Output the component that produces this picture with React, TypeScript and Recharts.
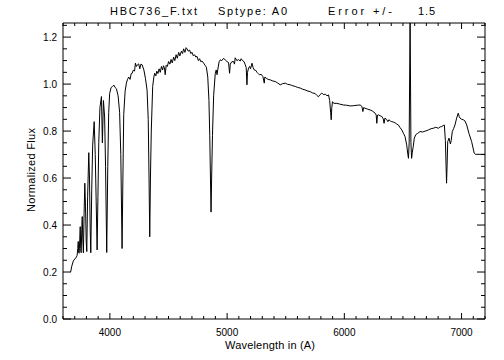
import { LineChart, Line, XAxis, YAxis } from 'recharts'

// spectrum (Angstrom / normalized flux)
const wavelength = [
  3665, 3675, 3688, 3700, 3712, 3720, 3726, 3730, 3734, 3738, 3743, 3747, 3751, 3755, 3760, 3764, 3769, 3774, 3780, 3786,
  3792, 3798, 3803, 3810, 3820, 3826, 3832, 3837, 3845, 3853, 3866, 3875, 3883, 3891, 3898, 3905, 3915, 3928, 3936, 3945,
  3955, 3963, 3973, 3982, 3990, 3998, 4010, 4022, 4035, 4045, 4056, 4070, 4083, 4093, 4104, 4111, 4118, 4130, 4141, 4150,
  4161, 4172, 4182, 4190, 4200, 4210, 4218, 4226, 4235, 4246, 4255, 4265, 4275, 4290, 4303, 4317, 4327, 4334, 4340, 4346,
  4353, 4365, 4375, 4382, 4392, 4400, 4410, 4420, 4430, 4440, 4450, 4457, 4465, 4472, 4480, 4490, 4501, 4512, 4522, 4532,
  4544, 4554, 4565, 4575, 4587, 4597, 4610, 4620, 4629, 4640, 4650, 4658, 4668, 4680, 4690, 4701, 4712, 4722, 4733, 4743,
  4755, 4765, 4776, 4786, 4800, 4812, 4823, 4835, 4845, 4852, 4858, 4863, 4868, 4875, 4885, 4899, 4907, 4914, 4920, 4932,
  4942, 4955, 4970, 4985, 4999, 5012, 5021, 5027, 5040, 5055, 5063, 5069, 5083, 5098, 5112, 5120, 5132, 5145, 5155, 5163,
  5169, 5174, 5183, 5192, 5200, 5212, 5222, 5232, 5245, 5255, 5265, 5277, 5290, 5305, 5317, 5322, 5334, 5350, 5368, 5390,
  5411, 5430, 5453, 5475, 5496, 5515, 5539, 5560, 5581, 5600, 5624, 5645, 5666, 5690, 5709, 5730, 5751, 5765, 5779, 5793,
  5808, 5822, 5837, 5852, 5865, 5875, 5883, 5888, 5893, 5899, 5910, 5936, 5960, 5992, 6020, 6050, 6080, 6110, 6135, 6150,
  6158, 6165, 6177, 6200, 6220, 6240, 6263, 6272, 6277, 6283, 6291, 6305, 6320, 6332, 6339, 6346, 6360, 6371, 6380, 6395,
  6405, 6420, 6433, 6447, 6461, 6475, 6490, 6505, 6518, 6532, 6542, 6547, 6553, 6561, 6568, 6574, 6580, 6588, 6597, 6610,
  6625, 6646, 6668, 6689, 6705, 6717, 6740, 6759, 6780, 6802, 6818, 6831, 6845, 6853, 6862, 6868, 6872, 6877, 6882, 6893,
  6905, 6912, 6921, 6932, 6944, 6958, 6972, 6980, 6987, 7001, 7015, 7029, 7044, 7063, 7086, 7108, 7120, 7171, 7199,
]
const flux = [
  0.2, 0.225, 0.247, 0.255, 0.262, 0.27, 0.3, 0.33, 0.282, 0.28, 0.34, 0.393, 0.3, 0.282, 0.38, 0.436, 0.34, 0.282, 0.45, 0.578,
  0.48, 0.33, 0.287, 0.52, 0.708, 0.6, 0.38, 0.282, 0.55, 0.74, 0.84, 0.7, 0.5, 0.294, 0.52, 0.75, 0.9, 0.947, 0.75, 0.93,
  0.86, 0.65, 0.283, 0.65, 0.88, 0.96, 0.985, 0.99, 0.995, 0.985, 0.98, 0.95, 0.88, 0.7, 0.3, 0.6, 0.87, 0.97, 1.004, 1.02,
  1.03, 1.02, 1.045, 1.046, 1.06, 1.055, 1.089, 1.075, 1.082, 1.086, 1.065, 1.085, 1.082, 1.06, 1.025, 0.975, 0.85, 0.6, 0.35, 0.6,
  0.8, 0.99, 1.03, 1.046, 1.035, 1.055, 1.045, 1.065, 1.05, 1.075, 1.06, 1.078, 1.07, 1.04, 1.08, 1.075, 1.096, 1.085, 1.105, 1.09,
  1.115, 1.1, 1.125, 1.11, 1.135, 1.12, 1.14, 1.13, 1.15, 1.135, 1.155, 1.15, 1.14, 1.145, 1.13, 1.135, 1.12, 1.125, 1.115, 1.118,
  1.1, 1.108, 1.095, 1.098, 1.089, 1.08, 1.072, 1.03, 0.93, 0.78, 0.6, 0.455, 0.6, 0.78, 0.95, 1.046, 1.06, 1.04, 1.06, 1.095,
  1.103, 1.1, 1.11, 1.102, 1.096, 1.092, 1.046, 1.085, 1.095, 1.096, 1.085, 1.112, 1.1, 1.104, 1.098, 1.108, 1.1, 1.095, 1.082, 1.07,
  0.997, 1.05, 1.068, 1.075, 1.065, 1.089, 1.07, 1.06, 1.058, 1.05, 1.045, 1.039, 1.042, 1.032, 1.004, 1.03, 1.025, 1.02, 1.018, 1.013,
  1.011, 1.005, 0.997, 1.002, 1.004, 0.999, 0.997, 0.993, 0.99, 0.986, 0.983, 0.978, 0.975, 0.97, 0.968, 0.962, 0.96, 0.952, 0.946, 0.955,
  0.962, 0.955, 0.957, 0.95, 0.954, 0.93, 0.88, 0.848, 0.9, 0.925, 0.918, 0.918, 0.915, 0.911, 0.91, 0.907, 0.908, 0.91, 0.911, 0.905,
  0.883, 0.9, 0.897, 0.893, 0.89, 0.885, 0.876, 0.868, 0.833, 0.868, 0.869, 0.865, 0.862, 0.852, 0.833, 0.855, 0.85, 0.84, 0.848, 0.842,
  0.84, 0.838, 0.835, 0.83, 0.826, 0.815, 0.805, 0.79, 0.776, 0.741, 0.7, 0.684, 0.75, 1.3, 0.75, 0.684, 0.71, 0.735, 0.77, 0.785,
  0.79, 0.798, 0.796, 0.8, 0.802, 0.805, 0.81, 0.812, 0.816, 0.812, 0.818, 0.819, 0.824, 0.826, 0.76, 0.65, 0.578, 0.66, 0.755, 0.77,
  0.745, 0.76, 0.798, 0.81, 0.826, 0.855, 0.876, 0.862, 0.855, 0.85, 0.848, 0.843, 0.826, 0.79, 0.755, 0.706, 0.701, 0.701, 0.701,
]

const xMajor = [4000, 5000, 6000, 7000]
const yMajorLabels = ['0.0', '0.2', '0.4', '0.6', '0.8', '1.0', '1.2']

const xTicks: number[] = []
for (let w = 3600; w <= 7200; w += 100) xTicks.push(w)
const yTicks: number[] = []
for (let i = 0; i <= 25; i++) yTicks.push(i * 0.05)

const spectrum = wavelength.map((w, i) => ({ w, f: flux[i] }))

const font = '"Liberation Sans", Arial, Helvetica, sans-serif'
const isMajorX = (v: number) => xMajor.includes(v)
const yLabelOf = (v: number) => {
  const k = Math.round(v * 5)
  return Math.abs(v * 5 - k) < 1e-6 ? yMajorLabels[k] : null
}

const BottomTick = (props: any) => {
  const { x, y, payload } = props
  const major = isMajorX(payload.value)
  return (
    <g>
      <line x1={x} y1={y} x2={x} y2={y - (major ? 6 : 3)} stroke='#000' />
      {major && <text x={x} y={y + 17} textAnchor='middle' fontSize={10} fontFamily={font} fill='#000'>{payload.value}</text>}
    </g>
  )
}
const TopTick = (props: any) => {
  const { x, y, payload } = props
  const major = isMajorX(payload.value)
  return <line x1={x} y1={y} x2={x} y2={y + (major ? 6 : 3)} stroke='#000' />
}
const LeftTick = (props: any) => {
  const { x, y, payload } = props
  const label = yLabelOf(payload.value)
  return (
    <g>
      <line x1={x} y1={y} x2={x + (label ? 8 : 4)} y2={y} stroke='#000' />
      {label && <text x={x - 6} y={y + 4} textAnchor='end' fontSize={10} fontFamily={font} fill='#000'>{label}</text>}
    </g>
  )
}
const RightTick = (props: any) => {
  const { x, y, payload } = props
  const major = yLabelOf(payload.value) !== null
  return <line x1={x} y1={y} x2={x - (major ? 8 : 4)} y2={y} stroke='#000' />
}

const App = () => {
  return (
    <div style={{ position: 'absolute', left: 0, top: 0, width: 504, height: 360, background: '#fff' }}>
      <LineChart width={504} height={360} data={spectrum} margin={{ top: 22, right: 18, bottom: 40, left: 62 }}>
        <XAxis xAxisId='bottom' dataKey='w' type='number' domain={[3600, 7200]} allowDataOverflow ticks={xTicks} interval={0}
          height={1} tickSize={0} tickMargin={0} tickLine={false} axisLine={{ stroke: '#000' }} tick={<BottomTick />} />
        <XAxis xAxisId='top' orientation='top' dataKey='w' type='number' domain={[3600, 7200]} allowDataOverflow ticks={xTicks} interval={0}
          height={1} tickSize={0} tickMargin={0} tickLine={false} axisLine={{ stroke: '#000' }} tick={<TopTick />} />
        <YAxis yAxisId='left' type='number' domain={[0, 1.26]} allowDataOverflow ticks={yTicks} interval={0}
          width={1} tickSize={0} tickMargin={0} tickLine={false} axisLine={{ stroke: '#000' }} tick={<LeftTick />} />
        <YAxis yAxisId='right' orientation='right' type='number' domain={[0, 1.26]} allowDataOverflow ticks={yTicks} interval={0}
          width={1} tickSize={0} tickMargin={0} tickLine={false} axisLine={{ stroke: '#000' }} tick={<RightTick />} />
        <Line xAxisId='bottom' yAxisId='left' type='linear' dataKey='f' stroke='#000' strokeWidth={1} dot={false} activeDot={false} isAnimationActive={false} />
        <Line xAxisId='top' yAxisId='right' type='linear' dataKey='f' stroke='none' dot={false} activeDot={false} isAnimationActive={false} />
      </LineChart>
      <svg width={504} height={360} style={{ position: 'absolute', left: 0, top: 0, pointerEvents: 'none' }}>
        <g fontFamily={font} fontSize={11} fill='#000'>
          <text x={110} y={15} textLength={87} lengthAdjust='spacing'>HBC736_F.txt</text>
          <text x={218} y={15} textLength={69} lengthAdjust='spacing'>Sptype: A0</text>
          <text x={328} y={15} textLength={64} lengthAdjust='spacing'>Error +/-</text>
          <text x={418} y={15} textLength={17} lengthAdjust='spacing'>1.5</text>
          <text x={225} y={349} textLength={90} lengthAdjust='spacing'>Wavelength in (A)</text>
          <text transform='translate(35,170) rotate(-90)' x={-42} y={0} textLength={84} lengthAdjust='spacing'>Normalized Flux</text>
        </g>
      </svg>
    </div>
  )
}

export default App
